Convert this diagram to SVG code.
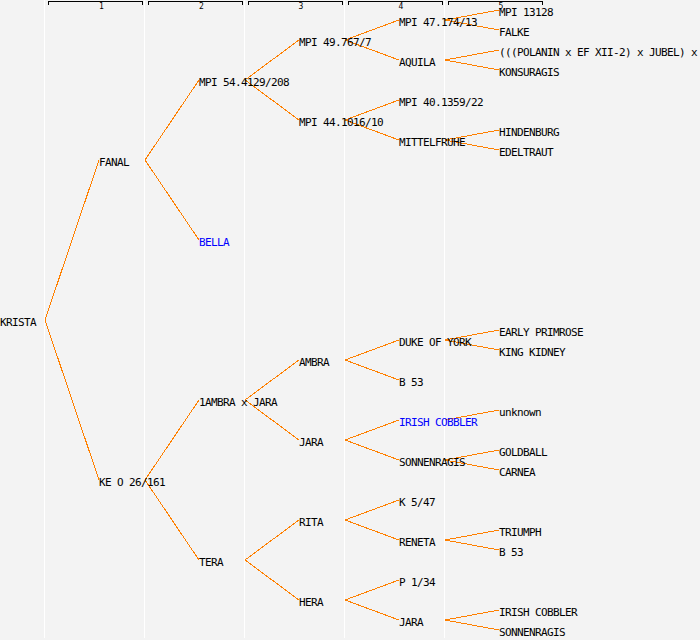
<svg xmlns="http://www.w3.org/2000/svg" width="700" height="640" viewBox="0 0 700 640">
<style>
.bg{fill:#f3f3f3}
.sep{fill:#ffffff}
.br{fill:none;stroke:#000;stroke-width:1;shape-rendering:crispEdges}
.hl{font-family:"DejaVu Sans Mono","Liberation Mono",monospace;font-size:8px;fill:#000;text-anchor:middle}
text.n{font-family:"DejaVu Sans Mono","Liberation Mono",monospace;font-size:11px;letter-spacing:-0.62px;fill:#000}
text.b{fill:#0000ff}
#connectors line{stroke:#ff8000;stroke-width:1;shape-rendering:crispEdges}
</style>
<rect class="bg" x="0" y="0" width="700" height="640"/>
<g id="separators">
<rect class="sep" x="44" y="0" width="1" height="638"/>
<rect class="sep" x="144" y="0" width="1" height="638"/>
<rect class="sep" x="244" y="0" width="1" height="638"/>
<rect class="sep" x="344" y="0" width="1" height="638"/>
<rect class="sep" x="444" y="0" width="1" height="638"/>
</g>
<g id="header">
<path class="br" d="M48.5,5 V1.5 H142.5 V5"/>
<path class="br" d="M148.5,5 V1.5 H242.5 V5"/>
<path class="br" d="M248.5,5 V1.5 H342.5 V5"/>
<path class="br" d="M348.5,5 V1.5 H442.5 V5"/>
<path class="br" d="M448.5,5 V1.5 H542.5 V5"/>
<text class="hl" x="101.5" y="9">1</text>
<text class="hl" x="201.5" y="9">2</text>
<text class="hl" x="301" y="9">3</text>
<text class="hl" x="401" y="9">4</text>
<text class="hl" x="501" y="9">5</text>
</g>
<g id="connectors">
<line x1="45" y1="320" x2="99" y2="160"/>
<line x1="45" y1="320" x2="99" y2="480"/>
<line x1="145" y1="160" x2="199" y2="80"/>
<line x1="145" y1="160" x2="199" y2="240"/>
<line x1="145" y1="480" x2="199" y2="400"/>
<line x1="145" y1="480" x2="199" y2="560"/>
<line x1="245" y1="80" x2="299" y2="40"/>
<line x1="245" y1="80" x2="299" y2="120"/>
<line x1="245" y1="400" x2="299" y2="360"/>
<line x1="245" y1="400" x2="299" y2="440"/>
<line x1="245" y1="560" x2="299" y2="520"/>
<line x1="245" y1="560" x2="299" y2="600"/>
<line x1="345" y1="40" x2="399" y2="20"/>
<line x1="345" y1="40" x2="399" y2="60"/>
<line x1="345" y1="120" x2="399" y2="100"/>
<line x1="345" y1="120" x2="399" y2="140"/>
<line x1="345" y1="360" x2="399" y2="340"/>
<line x1="345" y1="360" x2="399" y2="380"/>
<line x1="345" y1="440" x2="399" y2="420"/>
<line x1="345" y1="440" x2="399" y2="460"/>
<line x1="345" y1="520" x2="399" y2="500"/>
<line x1="345" y1="520" x2="399" y2="540"/>
<line x1="345" y1="600" x2="399" y2="580"/>
<line x1="345" y1="600" x2="399" y2="620"/>
<line x1="445" y1="20" x2="499" y2="10"/>
<line x1="445" y1="20" x2="499" y2="30"/>
<line x1="445" y1="60" x2="499" y2="50"/>
<line x1="445" y1="60" x2="499" y2="70"/>
<line x1="445" y1="140" x2="499" y2="130"/>
<line x1="445" y1="140" x2="499" y2="150"/>
<line x1="445" y1="340" x2="499" y2="330"/>
<line x1="445" y1="340" x2="499" y2="350"/>
<line x1="445" y1="420" x2="499" y2="410"/>
<line x1="445" y1="460" x2="499" y2="450"/>
<line x1="445" y1="460" x2="499" y2="470"/>
<line x1="445" y1="540" x2="499" y2="530"/>
<line x1="445" y1="540" x2="499" y2="550"/>
<line x1="445" y1="620" x2="499" y2="610"/>
<line x1="445" y1="620" x2="499" y2="630"/>
</g>
<g id="n-krista"><text class="n" x="0" y="326">KRISTA</text></g>
<g id="n-fanal"><text class="n" x="99" y="166">FANAL</text></g>
<g id="n-keo"><text class="n" x="99" y="486">KE O 26/161</text></g>
<g id="n-mpi544129"><text class="n" x="199" y="86">MPI 54.4129/208</text></g>
<g id="n-bella"><text class="n b" x="199" y="246">BELLA</text></g>
<g id="n-ambraxjara"><text class="n" x="199" y="406">1AMBRA x JARA</text></g>
<g id="n-tera"><text class="n" x="199" y="566">TERA</text></g>
<g id="n-mpi49767"><text class="n" x="299" y="46">MPI 49.767/7</text></g>
<g id="n-mpi441016"><text class="n" x="299" y="126">MPI 44.1016/10</text></g>
<g id="n-ambra"><text class="n" x="299" y="366">AMBRA</text></g>
<g id="n-jara3"><text class="n" x="299" y="446">JARA</text></g>
<g id="n-rita"><text class="n" x="299" y="526">RITA</text></g>
<g id="n-hera"><text class="n" x="299" y="606">HERA</text></g>
<g id="n-mpi47174"><text class="n" x="399" y="26">MPI 47.174/13</text></g>
<g id="n-aquila"><text class="n" x="399" y="66">AQUILA</text></g>
<g id="n-mpi401359"><text class="n" x="399" y="106">MPI 40.1359/22</text></g>
<g id="n-mittelfruhe"><text class="n" x="399" y="146">MITTELFRUHE</text></g>
<g id="n-dukeofyork"><text class="n" x="399" y="346">DUKE OF YORK</text></g>
<g id="n-b53a"><text class="n" x="399" y="386">B 53</text></g>
<g id="n-irishcobbler4"><text class="n b" x="399" y="426">IRISH COBBLER</text></g>
<g id="n-sonnenragis4"><text class="n" x="399" y="466">SONNENRAGIS</text></g>
<g id="n-k547"><text class="n" x="399" y="506">K 5/47</text></g>
<g id="n-reneta"><text class="n" x="399" y="546">RENETA</text></g>
<g id="n-p134"><text class="n" x="399" y="586">P 1/34</text></g>
<g id="n-jara4"><text class="n" x="399" y="626">JARA</text></g>
<g id="n-mpi13128"><text class="n" x="499" y="16">MPI 13128</text></g>
<g id="n-falke"><text class="n" x="499" y="36">FALKE</text></g>
<g id="n-polanin"><text class="n" x="499" y="56">(((POLANIN x EF XII-2) x JUBEL) x</text></g>
<g id="n-konsuragis"><text class="n" x="499" y="76">KONSURAGIS</text></g>
<g id="n-hindenburg"><text class="n" x="499" y="136">HINDENBURG</text></g>
<g id="n-edeltraut"><text class="n" x="499" y="156">EDELTRAUT</text></g>
<g id="n-earlyprimrose"><text class="n" x="499" y="336">EARLY PRIMROSE</text></g>
<g id="n-kingkidney"><text class="n" x="499" y="356">KING KIDNEY</text></g>
<g id="n-unknown"><text class="n" x="499" y="416">unknown</text></g>
<g id="n-goldball"><text class="n" x="499" y="456">GOLDBALL</text></g>
<g id="n-carnea"><text class="n" x="499" y="476">CARNEA</text></g>
<g id="n-triumph"><text class="n" x="499" y="536">TRIUMPH</text></g>
<g id="n-b53b"><text class="n" x="499" y="556">B 53</text></g>
<g id="n-irishcobbler5"><text class="n" x="499" y="616">IRISH COBBLER</text></g>
<g id="n-sonnenragis5"><text class="n" x="499" y="636">SONNENRAGIS</text></g>
</svg>
